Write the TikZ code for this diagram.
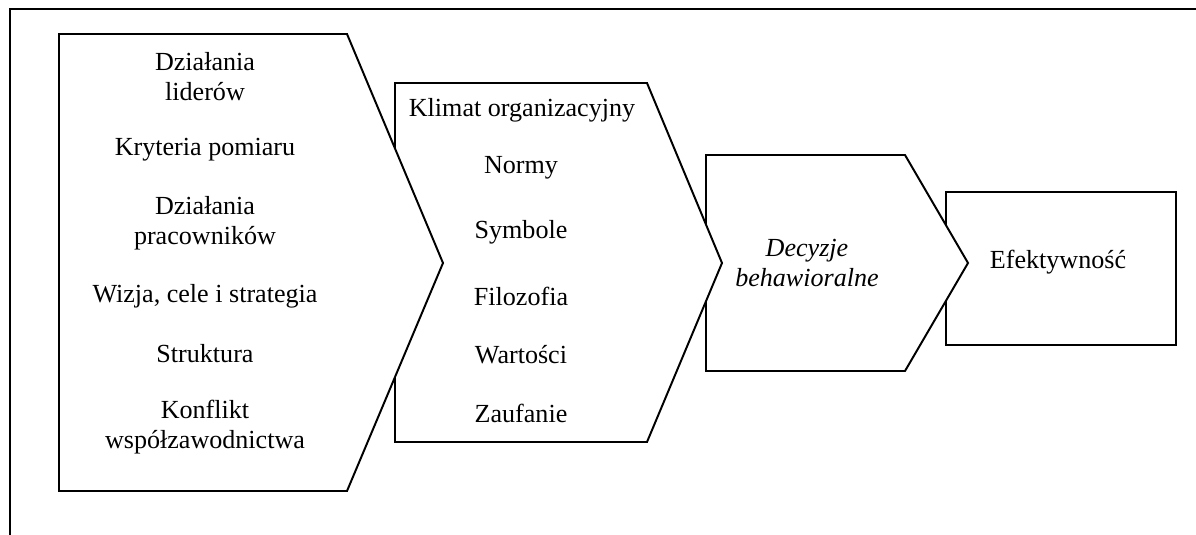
\documentclass[tikz,border=0pt]{standalone}
\usepackage{fontspec}
\setmainfont{Liberation Serif}
\begin{document}
\begin{tikzpicture}[x=0.46pt,y=-0.46pt,
    shp/.style={line width=0.9pt,line join=miter,fill=white},
    txt/.style={align=center,inner sep=0pt,font=\fontsize{12}{13.8}\selectfont}]
    \useasboundingbox (0,0) rectangle (1196,535);
    % outer frame
    \draw[line width=0.9pt] (10,535) -- (10,9) -- (1196,9);
    % arrows, back to front
    \draw[shp] (946,192) rectangle (1176,345);
    \draw[shp] (706,155) -- (905,155) -- (968,263) -- (905,371) -- (706,371) -- cycle;
    \draw[shp] (395,83) -- (647,83) -- (722,263) -- (647,442) -- (395,442) -- cycle;
    \draw[shp] (59,34) -- (347,34) -- (443,263) -- (347,491) -- (59,491) -- cycle;
    % factors
    \node[txt] (lid) at (205,77) {Działania\\liderów};
    \node[txt] (kry) at (205,150) {Kryteria pomiaru};
    \node[txt] (pra) at (205,223) {Działania\\pracowników};
    \node[txt] (wiz) at (205,296) {Wizja, cele i strategia};
    \node[txt] (str) at (205,354) {Struktura};
    \node[txt] (kon) at (205,427) {Konflikt\\współzawodnictwa};
    % culture
    \node[txt] (kli) at (522,110) {Klimat organizacyjny};
    \node[txt] (nor) at (521,168) {Normy};
    \node[txt] (sym) at (521,232) {Symbole};
    \node[txt] (fil) at (521,296) {Filozofia};
    \node[txt] (war) at (521,355) {Wartości};
    \node[txt] (zau) at (521,413) {Zaufanie};
    % outcome
    \node[txt,font=\fontsize{12}{13.8}\selectfont\itshape] (dec) at (807,263) {Decyzje\\behawioralne};
    \node[txt] (efe) at (1058,262) {Efektywność};
\end{tikzpicture}
\end{document}
